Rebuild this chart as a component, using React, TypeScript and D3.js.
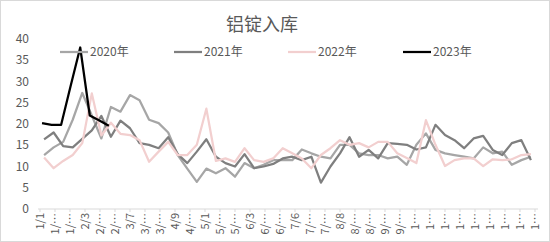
import React from "react";
import * as d3 from "d3";

const TITLE = "铝锭入库";
const seriesNames = ["2020年", "2021年", "2022年", "2023年"];
const seriesColors = ["#a6a6a6", "#7f7f7f", "#f2cfcf", "#000000"];
const startDays = [3, 3, 3, 1.5];

const s2020 = [12.7, 14.5, 15.8, 21, 27.3, 22, 16.6, 24, 22.9, 26.8, 25.6, 21, 20.2, 18, 12.7, 9.5, 6.4, 9.5, 8.4, 9.6, 7.6, 10.8, 9.6, 10.4, 11.5, 11.5, 11.5, 14, 13.1, 12.3, 11.9, 15.1, 15.1, 13.1, 12.7, 12.7, 11.9, 12.3, 10.4, 15.1, 17.8, 13.9, 13.1, 12.7, 12.3, 11.9, 14.5, 13.1, 13.5, 10.4, 11.5, 12.3];
const s2021 = [16.4, 18, 14.8, 14.5, 16.5, 18.5, 21.9, 17, 20.8, 19, 15.5, 15.1, 14.3, 16.9, 12.9, 10.8, 13.5, 16.4, 12.3, 10.8, 10, 12.9, 9.6, 10, 10.6, 11.9, 12.3, 11.5, 12.3, 6.2, 10, 13.1, 16.9, 12.3, 13.9, 11.9, 15.5, 15.3, 15.1, 14, 14.5, 19.8, 17.4, 16.2, 14.3, 16.6, 17.2, 13.9, 12.7, 15.5, 16.2, 11.5];
const s2022 = [12.1, 9.6, 11.3, 12.7, 15.5, 27.2, 17.3, 20.3, 17.7, 17.4, 16.2, 11.1, 13.5, 15.8, 12.7, 12.7, 15.1, 23.6, 11.3, 11.9, 11.1, 14.3, 11.5, 11.1, 11.9, 14.3, 13.1, 11.9, 9.6, 12.7, 14.3, 16.2, 15.1, 15.5, 14.5, 15.8, 15.8, 13.1, 12, 10.8, 20.9, 15.1, 10.1, 11.5, 11.9, 11.9, 10.1, 11.7, 11.5, 11.7, 12.7, 12.9];
const s2023 = [20.2, 19.8, 19.8, 29, 38, 22, 20.8, 19.6];
const allSeries = [s2020, s2021, s2022, s2023];

const yTicks = [0, 5, 10, 15, 20, 25, 30, 35, 40];
const xLabels = ["1/1", "1/…", "1/…", "2/3", "2/…", "2/…", "3/7", "3/…", "3/…", "4/9", "4/…", "5/1", "5/…", "5/…", "6/3", "6/…", "6/…", "7/6", "7/…", "7/…", "8/8", "8/…", "8/…", "9/…", "9/…", "1…", "1…", "1…", "1…", "1…", "1…", "1…", "1…", "1…"];
const labelStepDays = 11;

const W = 550;
const H = 242;
const FONT = "'Noto Sans CJK SC', 'Noto Sans', sans-serif";
const TXT = "#595959";

export default function App() {
  const x = d3.scaleLinear().domain([0, labelStepDays * (xLabels.length - 1)]).range([40, 535]);
  const y = d3.scaleLinear().domain([0, 40]).range([209, 39]);
  const line = d3
    .line<[number, number]>()
    .x((d) => x(d[0]))
    .y((d) => y(d[1]));

  const legendX = [60, 174, 288, 403];

  return (
    <svg
      width={W}
      height={H}
      style={{ position: "absolute", left: 0, top: 0, background: "#fff" }}
      fontFamily={FONT}
    >
      <rect x={0.5} y={0.5} width={W - 1} height={H - 1} fill="#fff" stroke="#d9d9d9" />
      <text x={262} y={31} textAnchor="middle" fontSize={18} fill={TXT}>
        {TITLE}
      </text>
      {yTicks.map((t) => (
        <text key={t} x={29} y={y(t)} dy="0.35em" textAnchor="end" fontSize={12} fill={TXT}>
          {t}
        </text>
      ))}
      <line x1={38} x2={538} y1={y(0)} y2={y(0)} stroke="#d9d9d9" strokeWidth={1} />
      {xLabels.map((l, i) => {
        const px = x(i * labelStepDays);
        return (
          <g key={i}>
            <line x1={px} x2={px} y1={y(0)} y2={y(0) + 3} stroke="#d9d9d9" />
            <text
              transform={`translate(${px},${y(0) + 4}) rotate(-90)`}
              dy="0.35em"
              textAnchor="end"
              fontSize={11}
              fill={TXT}
            >
              {l}
            </text>
          </g>
        );
      })}
      {allSeries.map((vals, si) => {
        const pts: [number, number][] = vals.map((v, i) => [startDays[si] + 7 * i, v]);
        return (
          <path
            key={si}
            d={line(pts) || ""}
            fill="none"
            stroke={seriesColors[si]}
            strokeWidth={si === 3 ? 2.25 : 2.25}
            strokeLinejoin="round"
          />
        );
      })}
      {seriesNames.map((n, i) => (
        <g key={n}>
          <line
            x1={legendX[i]}
            x2={legendX[i] + 28}
            y1={52}
            y2={52}
            stroke={seriesColors[i]}
            strokeWidth={2.25}
          />
          <text x={legendX[i] + 30} y={52} dy="0.35em" fontSize={12} fill={TXT}>
            {n}
          </text>
        </g>
      ))}
    </svg>
  );
}
